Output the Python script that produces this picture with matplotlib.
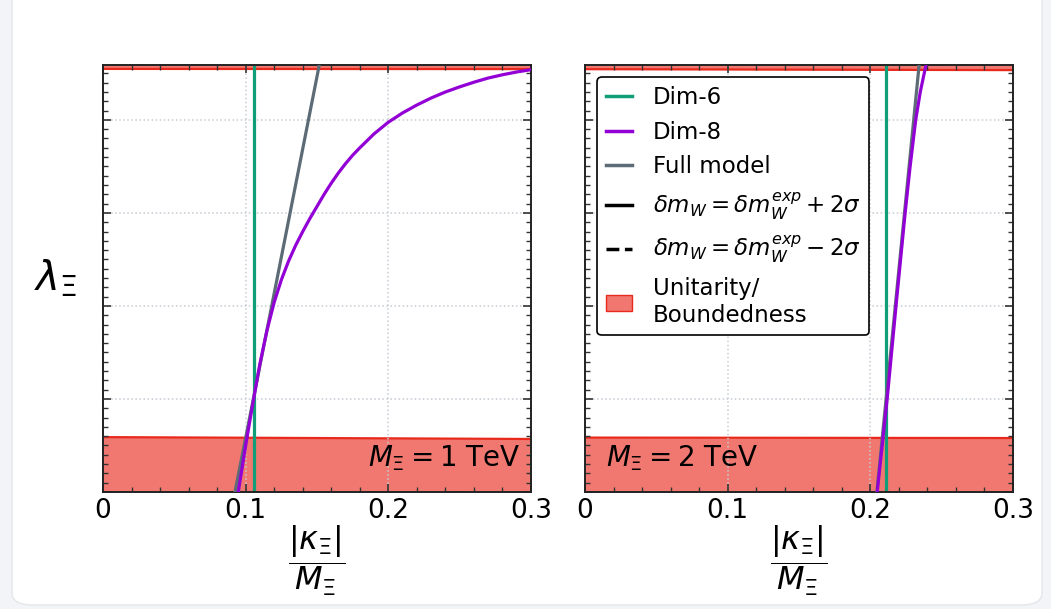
import matplotlib
matplotlib.use("Agg")
import matplotlib.pyplot as plt
from matplotlib.lines import Line2D
from matplotlib.patches import Patch, FancyBboxPatch
from matplotlib.ticker import MultipleLocator, NullFormatter

# -------- data --------
# M = 1 TeV panel
dim6_x_1 = 0.1055
dim8_x_1 = [0.0948, 0.100, 0.105, 0.110, 0.115, 0.120, 0.125, 0.130, 0.135, 0.140,
            0.145, 0.150, 0.155, 0.160, 0.165, 0.170, 0.175, 0.180, 0.190, 0.200,
            0.210, 0.220, 0.230, 0.240, 0.250, 0.260, 0.270, 0.280, 0.290, 0.300]
dim8_y_1 = [0.0, 0.50, 0.95, 1.38, 1.74, 2.04, 2.28, 2.48, 2.65, 2.80,
            2.94, 3.07, 3.20, 3.32, 3.43, 3.53, 3.62, 3.70, 3.85, 3.975,
            4.075, 4.16, 4.235, 4.30, 4.355, 4.405, 4.45, 4.485, 4.515, 4.54]
full_x_1 = [0.0925, 0.1516]
full_y_1 = [0.0, 4.59]

# M = 2 TeV panel
dim6_x_2 = 0.211
dim8_x_2 = [0.2048, 0.2118, 0.2180, 0.2244, 0.2279, 0.2318, 0.2350, 0.2390]
dim8_y_2 = [0.0, 1.0, 2.0, 3.0, 3.5, 4.0, 4.3, 4.59]
full_x_2 = [0.2046, 0.2342]
full_y_2 = [0.0, 4.59]

# unitarity / boundedness bands (lower band top edge, upper band bottom edge)
band_x = [0.0, 0.3]
low_band_1 = [0.59, 0.57]
high_band_1 = [4.548, 4.546]
low_band_2 = [0.585, 0.58]
high_band_2 = [4.545, 4.535]

masses = ["1", "2"]
y_top = 4.59

C_DIM6 = "#109e78"
C_DIM8 = "#9200d6"
C_FULL = "#5c6b75"
C_FILL = "#f07870"
C_EDGE = "#e8291c"

plt.rcParams["mathtext.fontset"] = "dejavusans"

fig = plt.figure(figsize=(10.51, 6.09), dpi=100, facecolor="#f3f4f7")

# white card behind the plot
card = FancyBboxPatch((12 / 1051, 4 / 609), 1030 / 1051, 620 / 609,
                      boxstyle="round,pad=0,rounding_size=0.02",
                      transform=fig.transFigure, facecolor="white",
                      edgecolor="#e4e6ea", linewidth=1.0, zorder=-10)
fig.patches.append(card)

ax1 = fig.add_axes([103 / 1051, 1 - 492 / 609, 428 / 1051, 427 / 609])
ax2 = fig.add_axes([585 / 1051, 1 - 492 / 609, 428 / 1051, 427 / 609])

panels = [
    (ax1, dim6_x_1, dim8_x_1, dim8_y_1, full_x_1, full_y_1, low_band_1, high_band_1),
    (ax2, dim6_x_2, dim8_x_2, dim8_y_2, full_x_2, full_y_2, low_band_2, high_band_2),
]

for ax, d6, d8x, d8y, fx, fy, lo, hi in panels:
    ax.fill_between(band_x, [0, 0], lo, color=C_FILL, zorder=1, lw=0)
    ax.plot(band_x, lo, color=C_EDGE, lw=1.6, zorder=1.5)
    ax.fill_between(band_x, hi, [y_top, y_top], color=C_FILL, zorder=1, lw=0)
    ax.plot(band_x, hi, color=C_EDGE, lw=1.6, zorder=1.5)

    ax.plot(fx, fy, color=C_FULL, lw=2.3, zorder=3)
    ax.plot(d8x, d8y, color=C_DIM8, lw=2.3, zorder=4, solid_joinstyle="round")
    ax.axvline(d6, color=C_DIM6, lw=2.3, zorder=2.5)

    ax.set_xlim(0, 0.3)
    ax.set_ylim(0, y_top)
    ax.xaxis.set_minor_locator(MultipleLocator(0.02))
    ax.yaxis.set_major_locator(MultipleLocator(1))
    ax.yaxis.set_minor_locator(MultipleLocator(0.1))
    ax.yaxis.set_major_formatter(NullFormatter())
    ax.set_xticks([0, 0.1, 0.2, 0.3])
    ax.set_xticklabels(["0", "0.1", "0.2", "0.3"])
    ax.tick_params(which="both", direction="in", top=True, right=True,
                   color="#333333", labelsize=19, pad=4)
    ax.tick_params(which="major", length=6, width=1.2)
    ax.tick_params(which="minor", length=3.5, width=1.0)
    ax.grid(True, which="major", linestyle=":", color="#c5ccd3", lw=1.1, zorder=0)
    for s in ax.spines.values():
        s.set_linewidth(1.4)
        s.set_color("#222222")
    ax.set_xlabel(r"$\dfrac{|\kappa_\Xi|}{M_\Xi}$", fontsize=23, labelpad=0)

ax1.text(0.975, 0.045, r"$M_\Xi = $" + masses[0] + " TeV", transform=ax1.transAxes,
         ha="right", va="bottom", fontsize=20, zorder=5)
ax2.text(0.05, 0.045, r"$M_\Xi = $" + masses[1] + " TeV", transform=ax2.transAxes,
         ha="left", va="bottom", fontsize=20, zorder=5)

ax1.set_ylabel(r"$\lambda_\Xi$", fontsize=29, rotation=0, labelpad=30, va="center")

handles = [
    Line2D([], [], color=C_DIM6, lw=2.5, label="Dim-6"),
    Line2D([], [], color=C_DIM8, lw=2.5, label="Dim-8"),
    Line2D([], [], color=C_FULL, lw=2.5, label="Full model"),
    Line2D([], [], color="black", lw=2.5, label=r"$\delta m_W = \delta m_W^{exp} + 2\sigma$"),
    Line2D([], [], color="black", lw=2.5, ls="--", label=r"$\delta m_W = \delta m_W^{exp} - 2\sigma$"),
    Patch(facecolor=C_FILL, edgecolor=C_EDGE, lw=1, label="Unitarity/\nBoundedness"),
]
leg = ax2.legend(handles=handles, loc="upper left", bbox_to_anchor=(0.028, 0.972),
                 fontsize=16.5, frameon=True, fancybox=True, framealpha=1,
                 edgecolor="black", handlelength=1.15, handletextpad=0.9,
                 labelspacing=0.52, borderpad=0.38, borderaxespad=0)
leg.get_frame().set_linewidth(1.2)
leg.set_zorder(10)

fig.savefig("out.png", dpi=100, facecolor=fig.get_facecolor())
